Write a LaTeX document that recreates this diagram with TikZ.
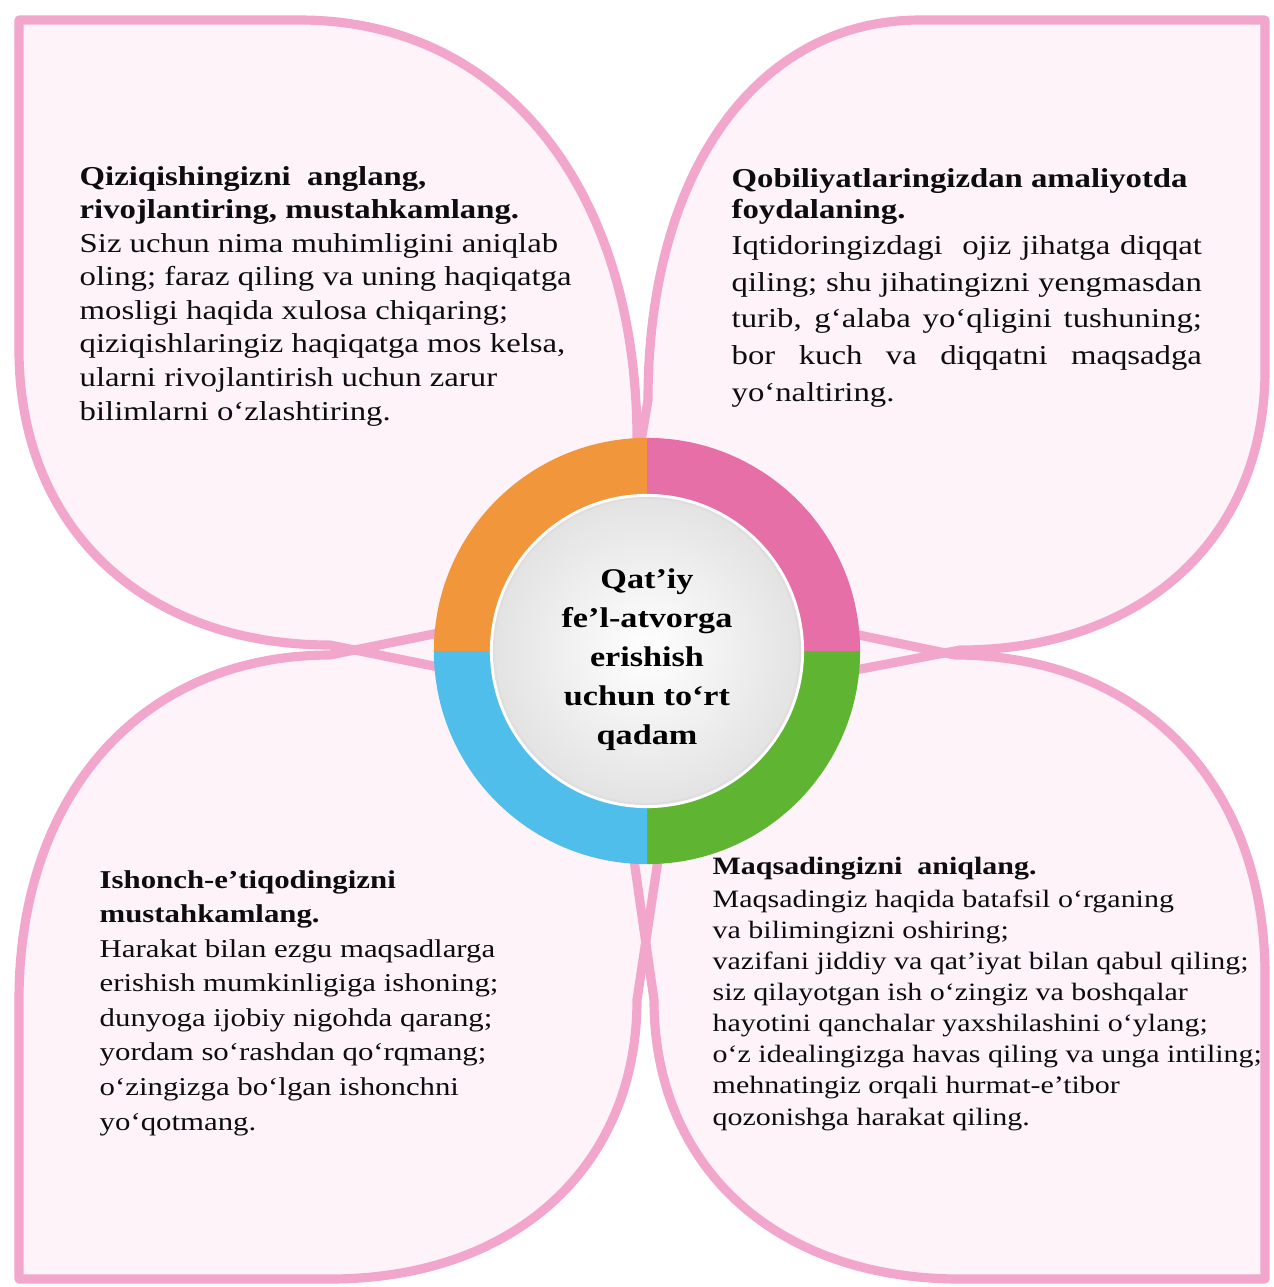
\documentclass[tikz,border=0pt]{standalone}
\usepackage{fontspec}
\setmainfont{Liberation Serif}[FakeStretch=1.2]
\usetikzlibrary{calc}
\definecolor{petalline}{HTML}{F2A6CC}
\definecolor{petalfill}{HTML}{FDF3F9}
\definecolor{ringorange}{HTML}{F1963A}
\definecolor{ringpink}{HTML}{E56FA6}
\definecolor{ringgreen}{HTML}{5FB432}
\definecolor{ringblue}{HTML}{50BEEB}
\tikzset{
  petal/.style={draw=petalline, line width=2.6pt, line join=round},
  stepbody/.style={anchor=base west, align=left, inner sep=0pt, text=black!95},
  hubtext/.style={align=center, inner sep=0pt, font=\fontsize{8.1}{11.1}\selectfont\bfseries},
}
% the four petals, in pixel coordinates
\newcommand{\petalTL}{(19,20) -- (300,20) .. controls (502,20) and (637,188) .. (637,440) -- (700,720) -- (330,645) .. controls (143,645) and (19,527) .. (19,350) -- cycle}
\newcommand{\petalTR}{(1265,20) -- (920,20) .. controls (757,20) and (648,172) .. (648,400) -- (594,720) -- (960,650) .. controls (1143,650) and (1265,538) .. (1265,370) -- cycle}
\newcommand{\petalBL}{(19,1279) -- (19,1000) .. controls (19,793) and (143,655) .. (330,655) -- (700,580) -- (637,1000) .. controls (637,1167) and (514,1279) .. (330,1279) -- cycle}
\newcommand{\petalBR}{(1265,1279) -- (1265,975) .. controls (1265,783) and (1141,655) .. (955,655) -- (594,580) -- (654,1000) .. controls (654,1167) and (776,1279) .. (960,1279) -- cycle}

\begin{document}
\begin{tikzpicture}[x=0.01cm, y=-0.01cm]
\useasboundingbox (0,0) rectangle (1274,1287);
\fill[white] (0,0) rectangle (1274,1287); % page

%%% Petals
\fill[petalfill] \petalTL; \fill[petalfill] \petalTR; % upper petals
\fill[petalfill] \petalBL; \fill[petalfill] \petalBR; % lower petals
\path[petal] \petalTL; \path[petal] \petalTR; % outlines
\path[petal] \petalBL; \path[petal] \petalBR; % outlines

%%% Ring in the middle
\coordinate (hub) at (647,651);
\fill[ringorange] (hub) -- ++(90:2.13cm) arc[start angle=90, end angle=180, radius=2.13cm] -- cycle; % top left
\fill[ringpink] (hub) -- ++(0:2.13cm) arc[start angle=0, end angle=90, radius=2.13cm] -- cycle; % top right
\fill[ringgreen] (hub) -- ++(-90:2.13cm) arc[start angle=-90, end angle=0, radius=2.13cm] -- cycle; % bottom right
\fill[ringblue] (hub) -- ++(180:2.13cm) arc[start angle=180, end angle=270, radius=2.13cm] -- cycle; % bottom left
\fill[white] (hub) circle[radius=1.57cm]; % thin rim
\shade[inner color=white, outer color=black!11] (hub) circle[radius=1.53cm]; % inner disc
\draw[black!13, line width=0.6pt] (hub) circle[radius=1.53cm]; % disc rim
\node[hubtext] (title) at (647,660) {Qat’iy\\fe’l-atvorga\\erishish\\uchun to‘rt\\qadam};

%%% Texts of the four steps (placed by the baseline of their last line)
\node[stepbody, font=\fontsize{7.76}{9.53}\selectfont] (stepTL) at (79,420) {%
\textbf{Qiziqishingizni\ \ anglang,}\\
\textbf{rivojlantiring, mustahkamlang.}\\
Siz uchun nima muhimligini aniqlab\\
oling; faraz qiling va uning haqiqatga\\
mosligi haqida xulosa chiqaring;\\
qiziqishlaringiz haqiqatga mos kelsa,\\
ularni rivojlantirish uchun zarur\\
bilimlarni o‘zlashtiring.};
\node[stepbody, font=\fontsize{7.76}{10.4}\selectfont] (stepTR) at (731,401) {%
\textbf{Qobiliyatlaringizdan amaliyotda}\\[-1.6pt]
\textbf{foydalaning.}\\
\makebox[4.70cm][s]{Iqtidoringizdagi\ \ ojiz jihatga diqqat}\\
\makebox[4.70cm][s]{qiling; shu jihatingizni yengmasdan}\\
\makebox[4.70cm][s]{turib, g‘alaba yo‘qligini tushuning;}\\
\makebox[4.70cm][s]{bor kuch va diqqatni maqsadga}\\
yo‘naltiring.};
\node[stepbody, font=\fontsize{7.3}{9.82}\selectfont] (stepBL) at (99,1130) {%
\textbf{Ishonch-e’tiqodingizni}\\
\textbf{mustahkamlang.}\\
Harakat bilan ezgu maqsadlarga\\
erishish mumkinligiga ishoning;\\
dunyoga ijobiy nigohda qarang;\\
yordam so‘rashdan qo‘rqmang;\\
o‘zingizga bo‘lgan ishonchni\\
yo‘qotmang.};
\node[stepbody, font=\fontsize{7.1}{8.82}\selectfont] (stepBR) at (712,1125) {%
\textbf{Maqsadingizni\ \ aniqlang.}\\[0.6pt]
Maqsadingiz haqida batafsil o‘rganing\\
va bilimingizni oshiring;\\
vazifani jiddiy va qat’iyat bilan qabul qiling;\\
siz qilayotgan ish o‘zingiz va boshqalar\\
hayotini qanchalar yaxshilashini o‘ylang;\\
o‘z idealingizga havas qiling va unga intiling;\\
mehnatingiz orqali hurmat-e’tibor\\
qozonishga harakat qiling.};
\end{tikzpicture}
\end{document}
